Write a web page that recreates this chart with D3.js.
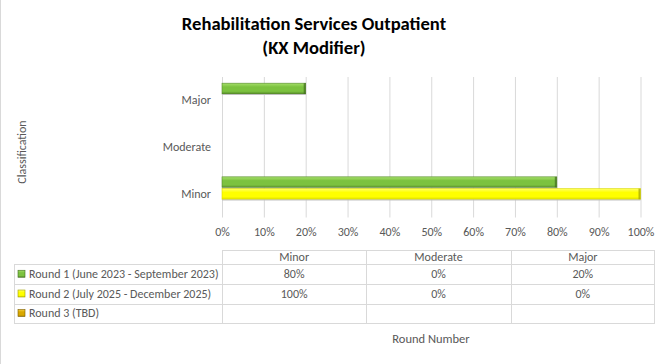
<!DOCTYPE html>
<html><head><meta charset="utf-8">
<script src="https://cdn.jsdelivr.net/npm/d3@7"></script>
<style>html,body{margin:0;padding:0;background:#fff;overflow:hidden}</style>
</head><body>
<svg id="chart" width="669" height="364"></svg>
<script>
// ---- data ----
const categories = ["Minor", "Moderate", "Major"];
const seriesNames = [
  "Round 1 (June 2023 - September 2023)",
  "Round 2 (July 2025 - December 2025)",
  "Round 3 (TBD)"
];
const round1 = [0.80, 0.00, 0.20];
const round2 = [1.00, 0.00, 0.00];
const round3 = [null, null, null];
const tickValues = [0, 0.1, 0.2, 0.3, 0.4, 0.5, 0.6, 0.7, 0.8, 0.9, 1.0];
const titleLines = ["Rehabilitation Services Outpatient", "(KX Modifier)"];
const yTitle = "Classification";
const xTitle = "Round Number";

const seriesValues = [round1, round2, round3];
const palette = [
  {top:"#a6e06a", mid:"#7cc23f", bot:"#55892a", edge:"#3f6b1e"},
  {top:"#ffff66", mid:"#ffff00", bot:"#d9d900", edge:"#9f9f00"},
  {top:"#f5d040", mid:"#d9a800", bot:"#b08600", edge:"#7a5c00"}
];

const FONT = "Carlito, Calibri, 'Liberation Sans', Arial, sans-serif";
const TXT = "#595959";
const svg = d3.select("#chart").style("font-family", FONT);

// chart left border
svg.append("line").attr("x1",0.5).attr("x2",0.5).attr("y1",0).attr("y2",364)
  .attr("stroke","#d9d9d9");

// gradients
const defs = svg.append("defs");
palette.forEach((p,i)=>{
  const g = defs.append("linearGradient").attr("id","g"+i)
    .attr("x1",0).attr("y1",0).attr("x2",0).attr("y2",1);
  g.append("stop").attr("offset","0%").attr("stop-color",p.top);
  g.append("stop").attr("offset","35%").attr("stop-color",p.mid);
  g.append("stop").attr("offset","75%").attr("stop-color",p.mid);
  g.append("stop").attr("offset","100%").attr("stop-color",p.bot);
});

// title
const title = svg.append("text").attr("text-anchor","middle")
  .attr("font-weight","bold").attr("font-size",18.6).attr("fill","#000");
titleLines.forEach((t,i)=>{
  title.append("tspan").attr("x",314).attr("y",30 + i*24).text(t);
});

// scales
const x = d3.scaleLinear().domain([0,1]).range([222, 640.5]);
const plotTop = 77, plotBottom = 217.5;
const yCat = d3.scaleBand().domain(categories.slice().reverse())
  .range([plotTop, plotBottom]).padding(0);
const ySer = d3.scaleBand().domain(d3.range(seriesNames.length))
  .range([0, yCat.bandwidth()]).paddingInner(0).paddingOuter(0.48);

// gridlines
svg.append("g").selectAll("line").data(tickValues).join("line")
  .attr("x1",d=>x(d)+0.5).attr("x2",d=>x(d)+0.5)
  .attr("y1",plotTop).attr("y2",plotBottom)
  .attr("stroke","#d9d9d9").attr("stroke-width",1);

// x tick labels via axis
const xAxis = svg.append("g").attr("transform",`translate(0,${plotBottom})`)
  .call(d3.axisBottom(x).tickValues(tickValues).tickFormat(d3.format(".0%")).tickSize(0).tickPadding(10));
xAxis.select(".domain").remove();
xAxis.selectAll("text").attr("fill",TXT).attr("font-size",12).attr("font-family",FONT);

// y category labels via axis
const yAxis = svg.append("g").attr("transform",`translate(222,0)`)
  .call(d3.axisLeft(yCat).tickSize(0).tickPadding(11));
yAxis.select(".domain").remove();
yAxis.selectAll("text").attr("fill",TXT).attr("font-size",12).attr("font-family",FONT);

// y title
svg.append("text").attr("transform","translate(26,152) rotate(-90)")
  .attr("text-anchor","middle").attr("fill",TXT).attr("font-size",12).text(yTitle);

// bars
seriesValues.forEach((vals,si)=>{
  const p = palette[si];
  const g = svg.append("g");
  const data = categories.map((c,ci)=>({c, v: vals[ci]})).filter(d=>d.v != null && d.v > 0);
  const y0 = d => yCat(d.c) + ySer(si) + 0.5;
  const h = ySer.bandwidth() - 1;
  g.selectAll("rect.bar").data(data).join("rect").attr("class","bar")
    .attr("x",x(0)).attr("y",y0)
    .attr("width",d=>x(d.v)-x(0)).attr("height",h)
    .attr("fill",`url(#g${si})`).attr("stroke",p.bot).attr("stroke-width",0.6);
  // darker right end cap
  g.selectAll("rect.cap").data(data).join("rect").attr("class","cap")
    .attr("x",d=>x(d.v)-2).attr("y",y0).attr("width",2).attr("height",h)
    .attr("fill",p.edge).attr("opacity",0.7);
  // bottom shade line
  g.selectAll("line.sh").data(data).join("line").attr("class","sh")
    .attr("x1",x(0)).attr("x2",d=>x(d.v)).attr("y1",d=>y0(d)+h+0.5).attr("y2",d=>y0(d)+h+0.5)
    .attr("stroke","#bfbfbf").attr("stroke-width",1);
});

// ---- data table ----
const colX = d3.scaleBand().domain(categories).range([222, 655]);
const rowTops = [250, 264, 283.5, 303.5, 322.5];
const grid = "#d9d9d9";
const tbl = svg.append("g").attr("shape-rendering","crispEdges");
tbl.append("line").attr("x1",222).attr("x2",655).attr("y1",250.5).attr("y2",250.5).attr("stroke",grid);
[1,2,3,4].forEach(i=>{
  tbl.append("line").attr("x1",14).attr("x2",655).attr("y1",Math.round(rowTops[i])+0.5).attr("y2",Math.round(rowTops[i])+0.5).attr("stroke",grid);
});
tbl.append("line").attr("x1",14.5).attr("x2",14.5).attr("y1",264).attr("y2",323).attr("stroke",grid);
categories.forEach(c=>{
  tbl.append("line").attr("x1",Math.round(colX(c))+0.5).attr("x2",Math.round(colX(c))+0.5)
    .attr("y1",250).attr("y2",323).attr("stroke",grid);
});
tbl.append("line").attr("x1",654.5).attr("x2",654.5).attr("y1",250).attr("y2",323).attr("stroke",grid);

// header text
svg.append("g").selectAll("text").data(categories).join("text")
  .attr("x",c=>colX(c)+colX.bandwidth()/2).attr("y",257).attr("dy","0.35em")
  .attr("text-anchor","middle").attr("fill",TXT).attr("font-size",12).text(c=>c);

const fmt = d3.format(".0%");
seriesNames.forEach((name,si)=>{
  const yc = (rowTops[si+1] + rowTops[si+2]) / 2;
  const p = palette[si];
  svg.append("rect").attr("x",18).attr("y",yc-3.5).attr("width",7).attr("height",7)
    .attr("fill",`url(#g${si})`).attr("stroke",p.edge).attr("stroke-width",0.6);
  svg.append("text").attr("x",29).attr("y",yc).attr("dy","0.35em")
    .attr("fill",TXT).attr("font-size",12).text(name);
  categories.forEach((c,ci)=>{
    const v = seriesValues[si][ci];
    if (v == null) return;
    svg.append("text").attr("x",colX(c)+colX.bandwidth()/2).attr("y",yc).attr("dy","0.35em")
      .attr("text-anchor","middle").attr("fill",TXT).attr("font-size",12).text(fmt(v));
  });
});

// x title
svg.append("text").attr("x",431).attr("y",339).attr("dy","0.35em")
  .attr("text-anchor","middle").attr("fill",TXT).attr("font-size",12.5).text(xTitle);
</script>
</body></html>
